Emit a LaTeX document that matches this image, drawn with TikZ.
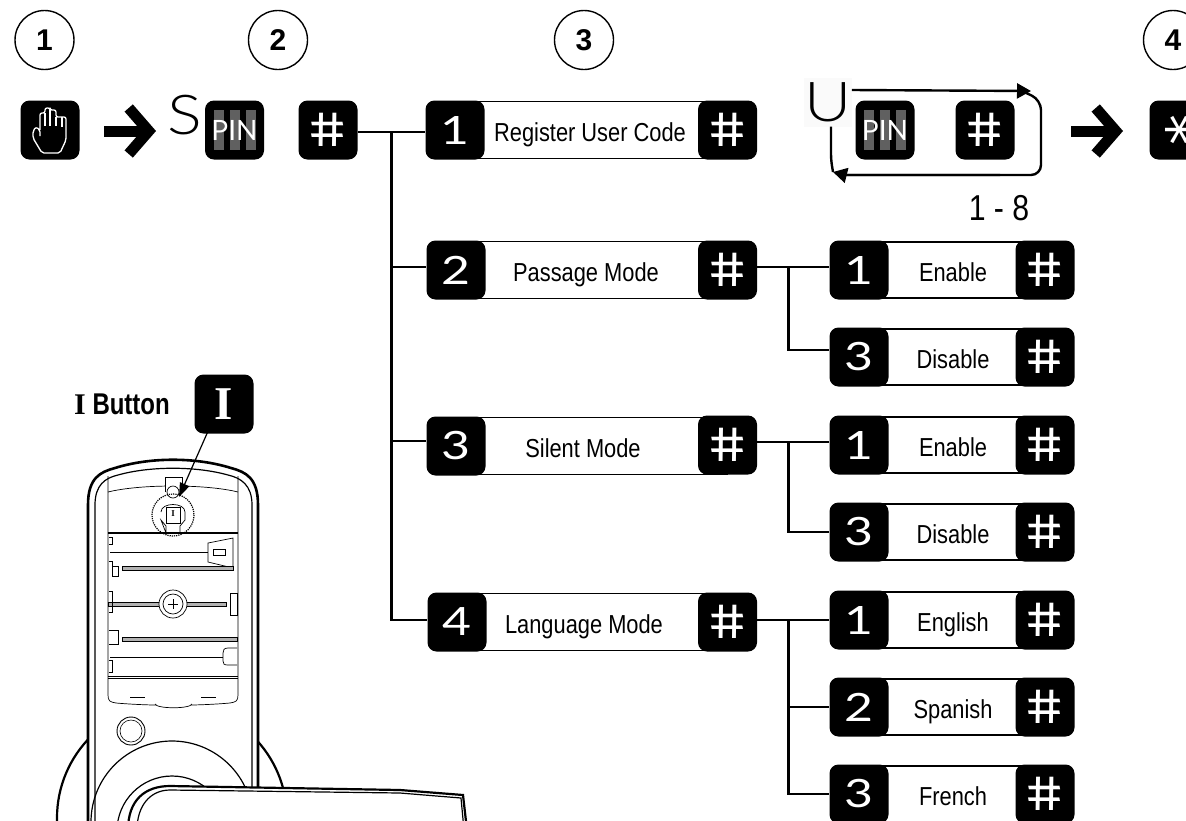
\documentclass[tikz,border=0pt]{standalone}
\usepackage{fontspec}
\setmainfont{Liberation Sans}
\newfontfamily\condfont[FakeStretch=0.84]{Liberation Sans}
\newfontfamily\condbold[FakeStretch=0.8]{Liberation Sans Bold}
\newfontfamily\thinfont{Lato}
\newfontfamily\widefont[FakeStretch=1.28]{Lato}
\newfontfamily\lightwide[FakeStretch=1.18]{Lato Light}
\newfontfamily\hashfont[FakeSlant=-0.2]{Poppins}
\newfontfamily\starfont{DejaVu Sans}
\newfontfamily\iserif{Liberation Serif Bold}
\usetikzlibrary{arrows.meta, positioning}
\definecolor{pingray}{RGB}{96,96,96}
\definecolor{ubox}{RGB}{250,250,250}
\newcommand{\hashmark}{\hspace*{7pt}\#}
\tikzset{
    keybox/.style={fill=black, text=white, rounded corners=9pt, minimum size=59pt, inner sep=0pt},
    digitkey/.style={keybox, font=\widefont\fontsize{39}{40}\selectfont},
    hashkey/.style={keybox, font=\hashfont\fontsize{45}{46}\selectfont},
    labeltext/.style={inner sep=0pt, text height=26pt, text depth=4pt, font=\condfont\fontsize{26}{28}\selectfont},
    stepnum/.style={draw=black, circle, line width=1.4pt, minimum size=59pt, inner sep=0pt, font=\bfseries\fontsize{30}{30}\selectfont},
    conn/.style={line width=2.6pt},
    bigarrow/.style={line width=11pt, -{Straight Barb[length=20pt, width=46pt]}},
    loopline/.style={line width=2.4pt},
    part/.style={black, line width=0.7pt},
    bar/.style={line width=0.5pt, fill=gray!60},
}
\begin{document}
\begin{tikzpicture}[x=1pt, y=-1pt]
    \clip (0,0) rectangle (1186,820);

    % step numbers
    \foreach \n/\x in {1/44.5, 2/278, 3/584, 4/1173} {
        \node[stepnum] (num\n) at (\x,40) {\n};
    }

    % first column
    \node[keybox] (hand) at (50,130) {};
    \node[keybox] (pinS) at (234.5,130) {};
    \node[hashkey] (hzero) at (328,130) {\hashmark};
    \node[keybox] (pinU) at (885,130) {};
    \node[hashkey] (hloop) at (985,130) {\hashmark};
    \node[keybox] (star) at (1179,130) {};
    \node[text=white, rotate=90, inner sep=0pt, font=\starfont\fontsize{62}{62}\selectfont] (starmark) at (1188,130) {*};
    \foreach \n in {pinS, pinU} {
        \foreach \dx in {-16,0,16} {
            \fill[pingray] ([xshift=\dx pt-5pt]\n.center) ++(0,-20) rectangle ++(10,40);
        }
        \node[text=white, font=\thinfont\fontsize{28}{28}\selectfont] (\n text) at (\n.center) {PIN};
    }
    \draw[white, line width=1.3pt, line join=round, rounded corners=2pt]
        (40,130) -- (40,113) -- (45,113) -- (45,108) -- (50,108) -- (50,110) -- (56,110) -- (56,117)
        -- (62,117) -- (66,117) -- (66,140) -- (60,153) -- (42,153) -- (33,138) -- (33,131) -- (36,127) -- (40,130) -- (40,136);
    \draw[white, line width=1.3pt] (45,113) -- (45,126) (50,110) -- (50,126) (56,117) -- (56,126) (62,117) -- (62,127);

    \node[font=\lightwide\fontsize{55}{56}\selectfont] (slabel) at (184.5,115) {S};

    % arrows between the steps
    \coordinate (arrowAa) at (104,131);
    \coordinate (arrowAb) at (156,131);
    \coordinate (arrowBa) at (1071,131);
    \coordinate (arrowBb) at (1123,131);
    \draw[bigarrow] (arrowAa) -- (arrowAb);
    \draw[bigarrow] (arrowBa) -- (arrowBb);

    % register loop
    \node[fill=ubox, minimum width=42pt, minimum height=49pt, inner sep=0pt, font=\lightwide\fontsize{55}{56}\selectfont] (ulabel) at (828,102) {U};
    \coordinate (looptip) at (1031,91);
    \coordinate (loopback) at (833,172);
    \draw[loopline, -{Triangle[length=14pt, width=15pt]}] (ulabel.east |- 0,90) -- (looptip);
    \draw[loopline, rounded corners=10pt] (1020,90) -- (1041,100) -- (1041,175) -- (845,175);
    \draw[loopline, -{Triangle[length=14pt, width=15pt]}] (1000,175) -- (845,175) -- (loopback);
    \draw[loopline, rounded corners=6pt] (ulabel.south -| 831,0) -- (831,160) -- (loopback);
    \node[font=\condfont\fontsize{36}{36}\selectfont] (range) at (999,208) {1 - 8};

    % main menu rows
    \foreach \n/\d/\t/\y/\kx/\tx/\hy in {
        a/1/Register User Code/130/455/590/130,
        b/2/Passage Mode/270/456/586/270,
        c/3/Silent Mode/446/456/583/445,
        d/4/Language Mode/622/457/584/622} {
        \draw[line width=1.2pt] (\kx,\y-28.5) -- (727.5,\y-28.5) (\kx,\y+28.5) -- (727.5,\y+28.5);
        \node[digitkey] (key\n) at (\kx,\y) {\d};
        \node[hashkey] (hash\n) at (727.5,\hy) {\hashmark};
        \node[labeltext] (lab\n) at (\tx,\y) {\t};
    }

    % sub menu rows
    \foreach \n/\d/\t/\y in {
        a/1/Enable/270, b/3/Disable/357, c/1/Enable/445, d/3/Disable/532,
        e/1/English/620, f/2/Spanish/707, g/3/French/794} {
        \draw[line width=1.2pt] (859,\y-28) -- (1045,\y-28) (859,\y+28) -- (1045,\y+28);
        \node[digitkey] (skey\n) at (859,\y) {\d};
        \node[hashkey] (shash\n) at (1045,\y) {\hashmark};
        \node[labeltext] (slab\n) at (953,\y) {\t};
    }

    % connectors of the menu
    \coordinate (trunktop) at ([xshift=34pt, yshift=-2pt]hzero.east);
    \draw[conn] ([yshift=-2pt]hzero.east) -- ([yshift=-2pt]keya.west);
    \draw[conn] (trunktop) |- ([yshift=3pt]keyb.west);
    \draw[conn] (trunktop) |- ([yshift=5pt]keyc.west);
    \draw[conn] (trunktop) |- ([yshift=2pt]keyd.west);
    \coordinate (forkb) at ([xshift=31pt, yshift=3pt]hashb.east);
    \coordinate (forkc) at ([xshift=31pt, yshift=3pt]hashc.east);
    \coordinate (forkd) at ([xshift=31pt, yshift=2pt]hashd.east);
    \draw[conn] ([yshift=3pt]hashb.east) -- ([yshift=3pt]skeya.west);
    \draw[conn] (forkb) |- ([yshift=7pt]skeyb.west);
    \draw[conn] ([yshift=3pt]hashc.east) -- ([yshift=3pt]skeyc.west);
    \draw[conn] (forkc) |- (skeyd.west);
    \draw[conn] ([yshift=2pt]hashd.east) -- (skeye.west);
    \draw[conn] (forkd) |- (skeyf.west);
    \draw[conn] (forkd) |- (skeyg.west);

    % button label
    \node[keybox, font=\iserif\fontsize{47}{48}\selectfont] (ikey) at (224,404) {I};
    \node[anchor=east, inner sep=0pt] (ilabel) at (170,404) {\iserif\fontsize{30}{30}\selectfont I\condbold\ Button};

    % back plate
    \draw[line width=2.2pt] (172,818) circle (115);
    \fill[white] (88,830) -- (88,505) .. controls (88,478) and (100,472) .. (115,468)
        .. controls (150,457) and (196,457) .. (231,468) .. controls (246,472) and (258,478) .. (258,505) -- (258,830);
    \draw[fill=white, line width=1.2pt] (172,822) circle (81);
    \draw[line width=1.2pt] (172,831) circle (55);
    \draw[line width=2.6pt] (88,830) -- (88,505) .. controls (88,478) and (100,472) .. (115,468)
        .. controls (150,457) and (196,457) .. (231,468) .. controls (246,472) and (258,478) .. (258,505) -- (258,830);
    \draw[line width=1.2pt] (95,830) -- (95,505) .. controls (95,485) and (105,478) .. (118,475)
        .. controls (150,466) and (196,466) .. (228,475) .. controls (241,478) and (252,485) .. (252,505) -- (252,830);

    % upper cover
    \draw[part] (108,476) -- (108,695) .. controls (108,701) and (110,702) .. (116,703)
        .. controls (150,706) and (196,706) .. (230,703) .. controls (236,702) and (238,701) .. (238,695) -- (238,476);
    \draw[part] (108,492) .. controls (140,484) and (206,484) .. (238,492);
    \draw[line width=1.4pt] (108,533) -- (238,533);
    \draw[part, fill=white] (165,492) -- (165,477) -- (182,477) -- (182,492);
    \draw[part] (173,492) circle (6);
    \draw[part] (161,512) .. controls (161,502) and (185,502) .. (185,512) -- (185,520) -- (180,526) -- (180,533) (166,533) -- (166,526) -- (161,520) -- cycle;
    \draw[part] (166,507) rectangle (180,523);
    \node[inner sep=0pt, font=\iserif\fontsize{9}{9}\selectfont] (imark) at (173,514) {I};
    \draw[densely dotted, line width=1.2pt] (173,515) circle (21);

    % arrow to the button
    \coordinate (itip) at (179,497);
    \draw[line width=1.2pt, -{Triangle[length=14pt, width=10pt]}] ([shift={(-14,-7)}]ikey.south) -- (itip);

    % battery bay
    \draw[part] (110,552) -- (208,552);
    \draw[part] (208,543) -- (233,538) -- (233,568) -- (208,562) -- cycle;
    \draw[part] (213,549) rectangle (225,555);
    \draw[bar] (122,566) rectangle (233,570);
    \draw[bar] (108,602) rectangle (226,606);
    \draw[bar] (122,637) rectangle (237,641);
    \draw[part] (110,657) -- (223,657);
    \draw[part] (237,648) -- (228,648) .. controls (224,648) and (223,650) .. (223,653) -- (223,661) .. controls (223,664) and (224,665) .. (228,665) -- (237,665);
    \draw[part] (108,678) -- (238,678) (108,676) -- (238,676);
    \draw[part] (109,537) -- (112,537) -- (112,544) -- (109,544);
    \draw[part] (109,561) -- (112,561) -- (112,576) -- (118,576) -- (118,566) -- (112,566);
    \draw[part] (109,591) -- (112,591) -- (112,612) -- (109,612);
    \draw[part] (109,630) -- (118,630) -- (118,644) -- (109,644);
    \draw[part] (109,660) -- (112,660) -- (112,672) -- (109,672);
    \draw[part] (230,593) -- (237,593) -- (237,615) -- (230,615) -- cycle;
    \draw[part, fill=white] (173,604) circle (14);
    \draw[part] (173,604) circle (10);
    \draw[line width=0.9pt] (168,604) -- (178,604) (173,599) -- (173,609);
    \draw[part] (130,697) -- (145,697) (201,697) -- (216,697);
    \draw[part, fill=white] (155,704) .. controls (157,709) and (190,709) .. (192,704);

    % knob and handle
    \draw[line width=0.9pt] (131,731) circle (14);
    \draw[line width=0.6pt] (131,731) circle (11);
    \draw[fill=white, line width=2.2pt] (128,830) .. controls (128,800) and (145,786) .. (170,786)
        -- (400,790) -- (463,795) -- (467,830);
    \draw[line width=1.2pt] (137,830) .. controls (137,806) and (150,790) .. (170,790)
        -- (400,793) -- (461,798) -- (464,830);
\end{tikzpicture}
\end{document}
